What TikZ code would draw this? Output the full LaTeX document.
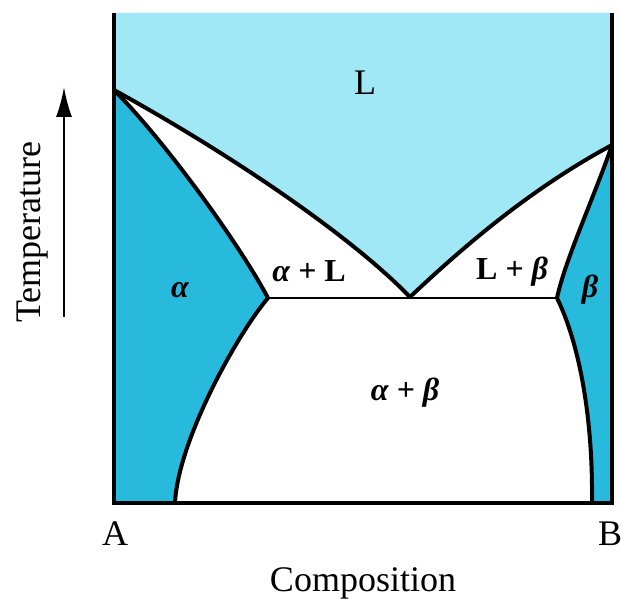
\documentclass[tikz,border=0pt]{standalone}
\usepackage{fontspec}
\setmainfont{Liberation Serif}
\usetikzlibrary{arrows.meta,positioning}

\definecolor{liqcol}{RGB}{160,232,246}
\definecolor{solcol}{RGB}{40,186,220}

\begin{document}
\begin{tikzpicture}[
    x=1pt, y=-1pt,
    boundary/.style={draw, line width=4pt, line join=round, line cap=round},
    tieline/.style={draw, line width=2.6pt},
    phase/.style={font=\fontsize{32}{34}\selectfont\bfseries\itshape, inner sep=0pt},
    axislabel/.style={font=\fontsize{36}{40}\selectfont, inner sep=0pt},
    tarrow/.style={draw, line width=2pt, -{Latex[length=30pt, width=16pt]}}
]
    \useasboundingbox (0,0) rectangle (621,599);

    % Points
    \coordinate (topA) at (114,13);
    \coordinate (topB) at (612,13);
    \coordinate (meltA) at (114,90);
    \coordinate (meltB) at (612,145);
    \coordinate (eut) at (410,297);
    \coordinate (solA) at (268,298);
    \coordinate (solB) at (557,298);
    \coordinate (baseA) at (175,503);
    \coordinate (baseB) at (592,503);
    \coordinate (cornerA) at (114,503);
    \coordinate (cornerB) at (612,503);
    \coordinate (tlow) at (64,317);
    \coordinate (thigh) at (64,87);

    % Regions
    \fill[liqcol] (topA) -- (topB) -- (meltB) .. controls (532,188) and (465,245) .. (eut)
        .. controls (350,235) and (230,154) .. (meltA) -- cycle;
    \fill[solcol] (meltA) .. controls (165,141) and (240,245) .. (solA)
        .. controls (238,333) and (178,440) .. (baseA) -- (cornerA) -- cycle;
    \fill[solcol] (meltB) .. controls (595,195) and (565,260) .. (solB)
        .. controls (580,345) and (593,420) .. (baseB) -- (cornerB) -- cycle;

    % Phase boundaries
    \draw [boundary] (meltA) .. controls (230,154) and (350,235) .. (eut)
        .. controls (465,245) and (532,188) .. (meltB);
    \draw [boundary] (meltA) .. controls (165,141) and (240,245) .. (solA)
        .. controls (238,333) and (178,440) .. (baseA);
    \draw [boundary] (meltB) .. controls (595,195) and (565,260) .. (solB)
        .. controls (580,345) and (593,420) .. (baseB);
    \draw [tieline] (solA) -- (solB);

    % Frame
    \draw [line width=4pt] (topA) -- (cornerA) -- (cornerB) -- (topB);

    % Labels
    \node [font=\fontsize{36}{40}\selectfont, inner sep=0pt] (liq) at (365,83) {L};
    \node [phase] (alpha) at (180,290) {α};
    \node [phase] (alphaliq) at (309,271) {α + {\upshape L}};
    \node [phase] (liqbeta) at (512,272) {{\upshape L} + β};
    \node [phase] (beta) at (590,290) {β};
    \node [phase] (alphabeta) at (405,393) {α + β};

    % Axes
    \node [axislabel, anchor=base] (compA) at (115,545) {A};
    \node [axislabel, anchor=base] (compB) at (610,545) {B};
    \node [axislabel, anchor=base] (comp) at (363,591) {Composition};
    \node [axislabel, anchor=base, rotate=90] (temp) at (40,232) {Temperature};
    \draw [tarrow] (tlow) -- (thigh);
\end{tikzpicture}
\end{document}
